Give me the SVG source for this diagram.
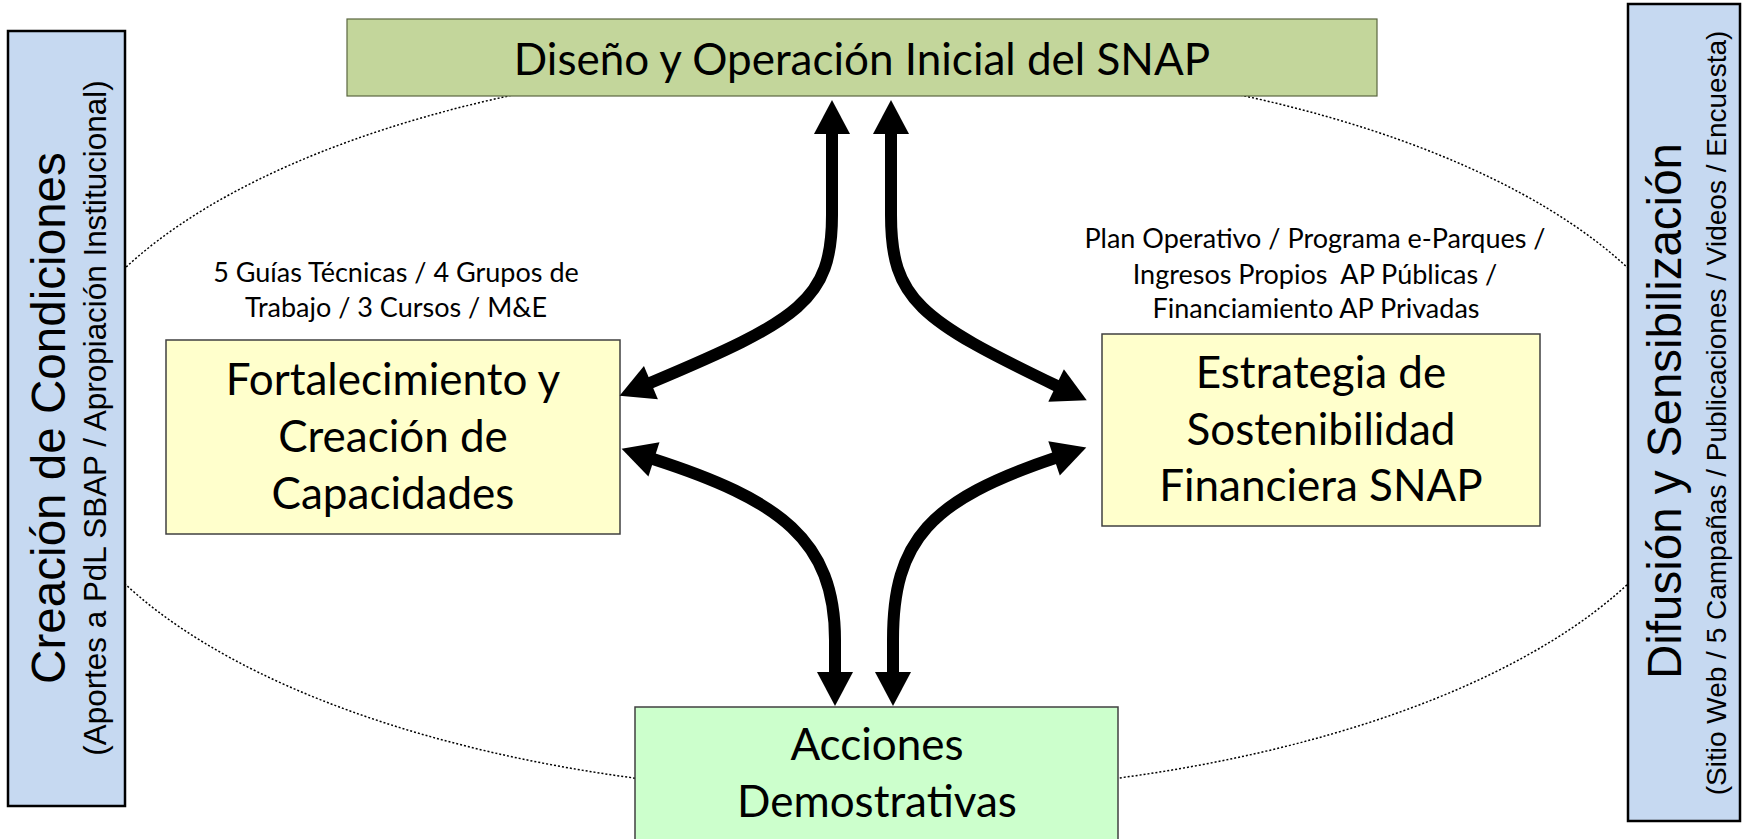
<svg xmlns="http://www.w3.org/2000/svg" width="1744" height="839" viewBox="0 0 1744 839">
<style>
.cal{font-family:Lato,"Open Sans","Noto Sans",sans-serif;fill:#000;text-anchor:middle}
.big{font-size:44px}
.small{font-size:27px}
.ar{font-family:"Liberation Sans",Arial,sans-serif;fill:#000;text-anchor:middle}
.blue{fill:#c6d9f1;stroke:#000;stroke-width:2.5}
.yel{fill:#ffffcc;stroke:#404040;stroke-width:1.5}
.shaft{fill:none;stroke:#000;stroke-width:12;marker-start:url(#ah);marker-end:url(#ah)}
</style>
<defs>
<marker id="ah" markerUnits="userSpaceOnUse" viewBox="0 -18 36 36" markerWidth="36" markerHeight="36" refX="1" refY="0" orient="auto-start-reverse" overflow="visible">
<path d="M0,-18 L34,0 L0,18 Z" fill="#000"/>
</marker>
</defs>
<rect width="1744" height="839" fill="#fff"/>
<ellipse id="ring" cx="876.5" cy="426" rx="832" ry="368" fill="none" stroke="#000" stroke-width="1.5" stroke-dasharray="2 2"/>
<g id="creacion">
<rect class="blue" x="8" y="31" width="117" height="775"/>
<text class="ar" transform="translate(65,418) rotate(-90)" font-size="47.6">Creación de Condiciones</text>
<text class="ar" transform="translate(106,418) rotate(-90)" font-size="31.4">(Aportes a PdL SBAP / Apropiación Institucional)</text>
</g>
<g id="difusion">
<rect class="blue" x="1628" y="4" width="112" height="817"/>
<text class="ar" transform="translate(1681,411) rotate(-90)" font-size="47.5">Difusión y Sensibilización</text>
<text class="ar" transform="translate(1726,413) rotate(-90)" font-size="28">(Sitio Web / 5 Campañas / Publicaciones / Videos / Encuesta)</text>
</g>
<g id="diseno">
<rect x="347" y="19" width="1030" height="77" fill="#c3d69b" stroke="#5a6640" stroke-width="1.2"/>
<text class="cal" x="862" y="75" font-size="44">Diseño y Operación Inicial del SNAP</text>
</g>
<g id="fortalecimiento">
<text class="cal small" x="396" y="282">5 Guías Técnicas / 4 Grupos de</text>
<text class="cal small" x="396" y="317">Trabajo / 3 Cursos / M&amp;E</text>
<rect class="yel" x="166" y="340" width="454" height="194"/>
<text class="cal big" x="393" y="395">Fortalecimiento y</text>
<text class="cal big" x="393" y="452">Creación de</text>
<text class="cal big" x="393" y="509">Capacidades</text>
</g>
<g id="estrategia">
<text class="cal small" x="1315" y="248">Plan Operativo / Programa e-Parques /</text>
<text class="cal small" x="1315" y="284" style="white-space:pre">Ingresos Propios  AP Públicas /</text>
<text class="cal small" x="1316" y="318">Financiamiento AP Privadas</text>
<rect class="yel" x="1102" y="334" width="438" height="192"/>
<text class="cal big" x="1321" y="388">Estrategia de</text>
<text class="cal big" x="1321" y="445">Sostenibilidad</text>
<text class="cal big" x="1321" y="501">Financiera SNAP</text>
</g>
<g id="acciones">
<rect x="635" y="707" width="483" height="140" fill="#ccffcc" stroke="#404040" stroke-width="1.5"/>
<text class="cal big" x="877" y="760">Acciones</text>
<text class="cal big" x="877" y="817">Demostrativas</text>
</g>
<g id="connectors">
<path class="shaft" d="M832 133 L832 215 C832 300 800 320 650 383"/>
<path class="shaft" d="M891 133 L891 215 C891 300 920 320 1057 386"/>
<path class="shaft" d="M653 459 C780 500 835 540 835 640 L835 673"/>
<path class="shaft" d="M1055 458 C930 500 893 540 893 640 L893 673"/>
</g>
</svg>
